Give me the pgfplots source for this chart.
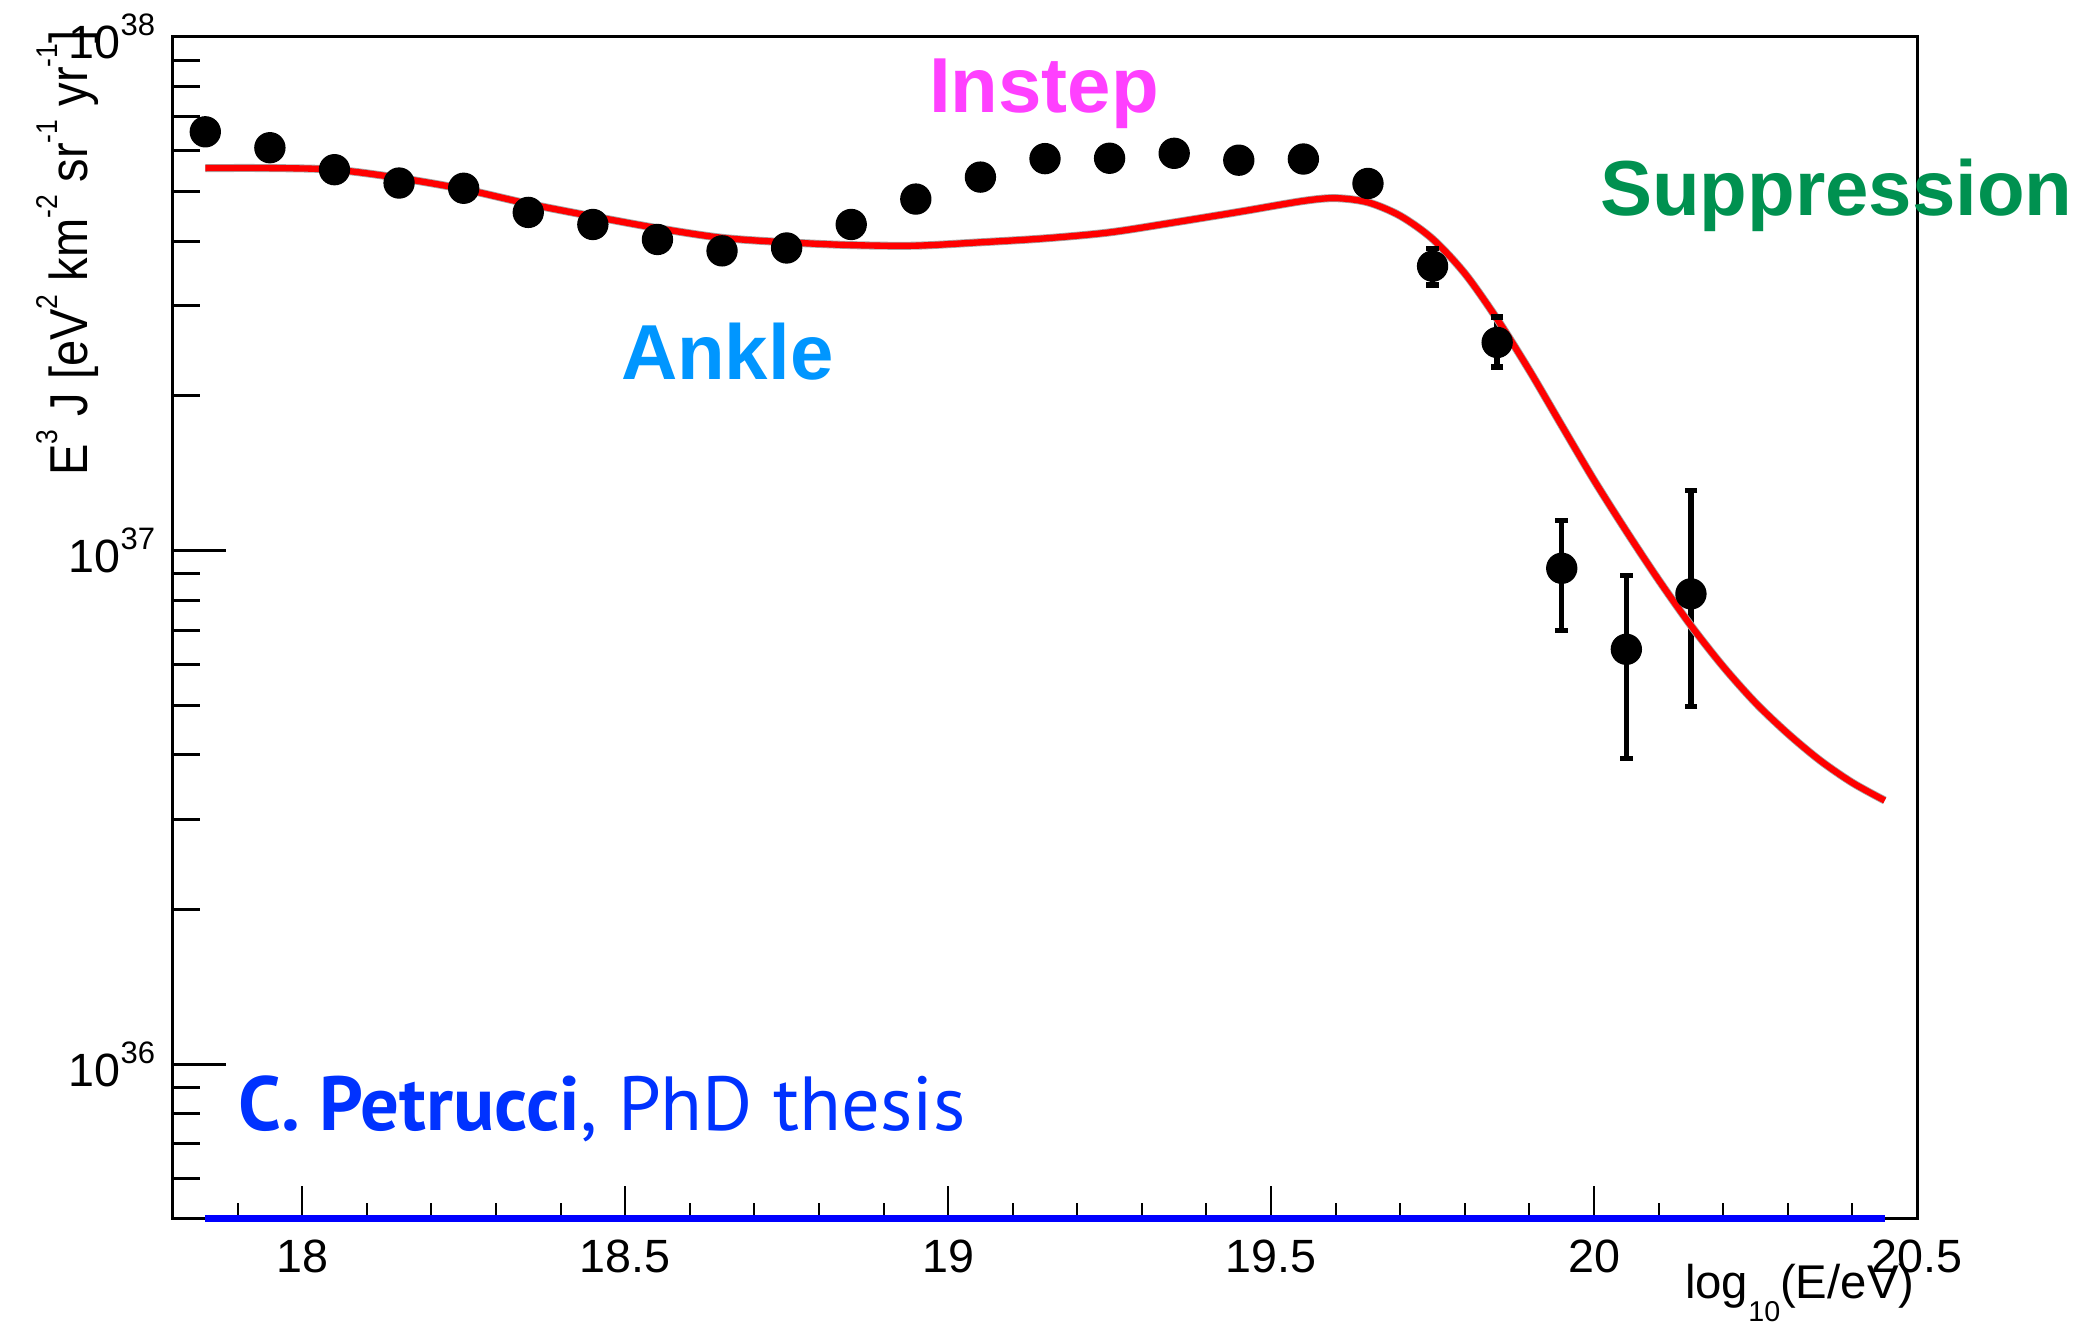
\documentclass[border=0pt]{standalone}
\usepackage{pgfplots}
\usepackage{pgfplotstable}
\pgfplotsset{compat=1.18}
\usepackage{fontspec}
\usepackage{graphicx}
\setmainfont{Liberation Sans}
\newfontfamily\thesisfont{PT Sans}

\definecolor{instep}{RGB}{255,64,255}
\definecolor{ankle}{RGB}{0,150,255}
\definecolor{suppr}{RGB}{0,145,80}
\definecolor{credit}{RGB}{0,50,255}
\definecolor{histblue}{RGB}{0,0,255}

% superscripts for tick labels and the axis title
\newcommand\tsup[1]{\raisebox{7pt}{\fontsize{9.3}{9}\selectfont #1}}
\newcommand\ysup[1]{\raisebox{9pt}{\fontsize{9}{9}\selectfont #1}}

% measured flux, E^3 J
\pgfplotstableread{
x y
17.85 6.53e37
17.95 6.08e37
18.05 5.51e37
18.15 5.19e37
18.25 5.07e37
18.35 4.55e37
18.45 4.31e37
18.55 4.03e37
18.65 3.83e37
18.75 3.88e37
18.85 4.31e37
18.95 4.83e37
19.05 5.33e37
19.15 5.79e37
19.25 5.80e37
19.35 5.93e37
19.45 5.75e37
19.55 5.78e37
19.65 5.18e37
19.75 3.576e37
19.85 2.540e37
19.95 9.23e36
20.05 6.42e36
20.15 8.23e36
}\fluxdata

% model spectrum
\pgfplotstableread{
x y
17.85 5.55e37
17.95 5.55e37
18.05 5.51e37
18.15 5.31e37
18.25 5.05e37
18.35 4.73e37
18.45 4.47e37
18.55 4.24e37
18.65 4.06e37
18.75 3.98e37
18.85 3.93e37
18.95 3.92e37
19.05 3.98e37
19.15 4.05e37
19.25 4.16e37
19.35 4.35e37
19.45 4.56e37
19.55 4.79e37
19.60 4.85e37
19.65 4.76e37
19.70 4.48e37
19.75 4.04e37
19.80 3.46e37
19.85 2.82e37
19.90 2.24e37
19.95 1.75e37
20.00 1.37e37
20.05 1.09e37
20.10 8.76e36
20.15 7.14e36
20.20 5.94e36
20.25 5.05e36
20.30 4.40e36
20.35 3.90e36
20.40 3.53e36
20.45 3.26e36
}\modelcurve

\begin{document}
\begin{tikzpicture}
\begin{axis}[
  scale only axis,
  width=523.2pt, height=354.6pt,
  xmin=17.8, xmax=20.5,
  ymode=log, ymin=5e35, ymax=1e38,
  clip=false,
  axis line style={line width=0.9pt, black},
  tick pos=left,
  tick align=inside,
  xtick={18,18.5,19,19.5,20,20.5},
  xticklabels={18,18.5,19,19.5,20,20.5},
  minor xtick={17.9,18.1,18.2,18.3,18.4,18.6,18.7,18.8,18.9,19.1,19.2,19.3,19.4,19.6,19.7,19.8,19.9,20.1,20.2,20.3,20.4},
  ytick={1e36,1e37,1e38},
  yticklabels={10\tsup{36},10\tsup{37},10\tsup{38}},
  minor ytick={6e35,7e35,8e35,9e35,2e36,3e36,4e36,5e36,6e36,7e36,8e36,9e36,2e37,3e37,4e37,5e37,6e37,7e37,8e37,9e37},
  xtick style={line width=0.6pt, black, /pgfplots/major tick length=9.9pt, /pgfplots/minor tick length=4.8pt},
  ytick style={line width=0.9pt, black, /pgfplots/major tick length=15.9pt, /pgfplots/minor tick length=8.1pt},
  xticklabel style={font=\fontsize{14}{16}\selectfont, inner sep=0pt, anchor=north},
  xticklabel shift=6pt,
  yticklabel style={font=\fontsize{14}{16}\selectfont, inner sep=0pt, anchor=east},
  yticklabel shift=5.2pt,
  errbar/.style={black, line width=1.6pt, mark=-, mark size=1.9pt, mark options={solid, line width=1.6pt}},
]
% statistical uncertainties of the highest-energy bins (lower and upper edge)
\addplot[errbar] coordinates {(19.75,3.285e37) (19.75,3.870e37)};
\addplot[errbar] coordinates {(19.85,2.274e37) (19.85,2.847e37)};
\addplot[errbar] coordinates {(19.95,6.99e36) (19.95,1.144e37)};
\addplot[errbar] coordinates {(20.05,3.94e36) (20.05,8.93e36)};
\addplot[errbar] coordinates {(20.15,4.97e36) (20.15,1.309e37)};
% data points
\addplot[only marks, mark=*, mark size=4.5pt, black] table {\fluxdata};
% model curve with a thin grey edge
\addplot[gray!70, line width=2.4pt, smooth, no marks] table {\modelcurve};
\addplot[red, line width=1.9pt, smooth, no marks] table {\modelcurve};
% empty histogram along the lower edge
\addplot[histblue, line width=2pt, no marks] coordinates {(17.85,5e35) (20.45,5e35)};

\node[anchor=base, text=instep, font=\fontsize{23.4}{28}\selectfont\bfseries] at (axis cs:19.1485,7.11e37) {Instep};
\node[anchor=base, text=ankle, font=\fontsize{23.4}{28}\selectfont\bfseries] at (axis cs:18.658,2.152e37) {Ankle};
\node[anchor=base, text=suppr, font=\fontsize{23.4}{28}\selectfont\bfseries] at (axis cs:20.375,4.486e37) {Suppression};
\node[anchor=base west, inner sep=0pt, text=credit, font=\fontsize{23}{28}\selectfont\thesisfont] at (axis cs:17.9006,7.41e35) {\textbf{C. Petrucci}, PhD thesis};
\end{axis}
% axis titles
\node[anchor=base east, inner sep=0pt, font=\fontsize{14.2}{16}\selectfont] at (522.6pt,-24pt)
  {log\raisebox{-6.9pt}{\fontsize{8.6}{9}\selectfont 10}(E/eV)};
\node[rotate=90, anchor=base east, inner sep=0pt, font=\fontsize{16}{19}\selectfont] at (-25.5pt,356.7pt)
  {\resizebox{133.5pt}{\height}{E\ysup{3} J [eV\ysup{2} km\ysup{-2} sr\ysup{-1} yr\ysup{-1}]}};
\pgfresetboundingbox
\path[use as bounding box] (-51.9pt,-32.1pt) rectangle (574.2pt,365.7pt);
\end{tikzpicture}
\end{document}
